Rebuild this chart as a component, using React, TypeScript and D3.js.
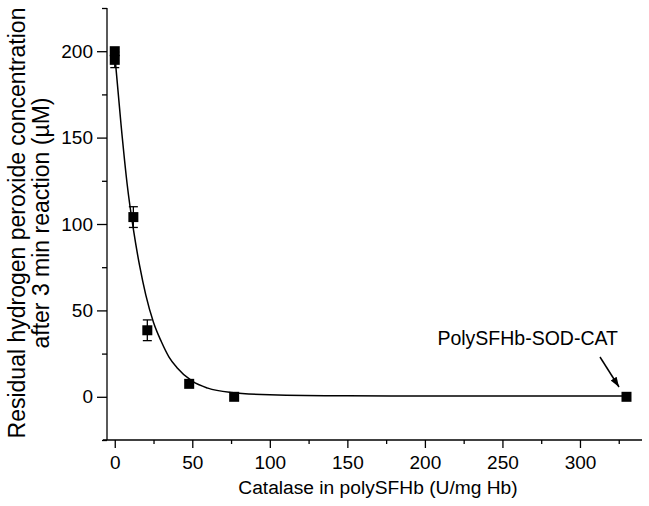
import React, { useEffect, useRef } from "react";
import * as d3 from "d3";

const catalase = [0, 0, 12, 21, 48, 77, 330];
const h2o2 = [200, 195, 104, 38.5, 7.5, 0, 0];
const errs = [0, 4.5, 6, 6, 0, 0, 0];

const curveX = [0, 4, 8, 12, 16, 20, 25, 30, 35, 40, 50, 60, 75, 100, 150, 200, 330];
const curveY = [198, 158, 123, 97, 76, 59, 43, 32, 23, 17, 9, 5, 2.5, 1.2, 0.6, 0.5, 0.5];

const xMajor = [0, 50, 100, 150, 200, 250, 300];
const xMinor = [25, 75, 125, 175, 225, 275, 325];
const yMajor = [0, 50, 100, 150, 200];
const yMinor = [-25, 25, 75, 125, 175, 225];

const xTitle = "Catalase in polySFHb (U/mg Hb)";
const yTitle1 = "Residual hydrogen peroxide concentration";
const yTitle2 = "after 3 min reaction (\u00b5M)";
const annotation = "PolySFHb-SOD-CAT";

const W = 649;
const H = 506;
const FONT = "'Liberation Sans', Arial, sans-serif";

export default function App() {
  const ref = useRef<SVGSVGElement | null>(null);

  useEffect(() => {
    const svg = d3.select(ref.current);
    svg.selectAll("*").remove();

    const x = d3.scaleLinear().domain([-5, 340]).range([107, 642]);
    const y = d3.scaleLinear().domain([-25, 225]).range([440, 8]);

    const defs = svg.append("defs");
    defs
      .append("marker")
      .attr("id", "arrow")
      .attr("viewBox", "0 0 10 10")
      .attr("refX", 10)
      .attr("refY", 5)
      .attr("markerWidth", 10)
      .attr("markerHeight", 10)
      .attr("markerUnits", "userSpaceOnUse")
      .attr("orient", "auto")
      .append("path")
      .attr("d", "M0,1.5 L10,5 L0,8.5 Z")
      .attr("fill", "#000");

    // X axis
    const xg = svg.append("g").attr("transform", `translate(0,${y(-25)})`);
    xg.append("g")
      .call(d3.axisBottom(x).tickValues(xMinor).tickSize(4).tickFormat(() => "").tickSizeOuter(0))
      .call((g) => g.select(".domain").remove());
    xg.append("g")
      .call(d3.axisBottom(x).tickValues(xMajor).tickSize(8).tickPadding(8).tickSizeOuter(0))
      .call((g) => g.select(".domain").remove());
    xg.append("line")
      .attr("x1", 103)
      .attr("x2", x(340))
      .attr("y1", 0)
      .attr("y2", 0)
      .attr("stroke", "#000")
      .attr("stroke-width", 1.3);

    // Y axis
    const yg = svg.append("g").attr("transform", `translate(${x(-5)},0)`);
    yg.append("g")
      .call(d3.axisLeft(y).tickValues(yMinor).tickSize(5).tickFormat(() => "").tickSizeOuter(0))
      .call((g) => g.select(".domain").remove());
    yg.append("g")
      .call(d3.axisLeft(y).tickValues(yMajor).tickSize(10).tickPadding(4).tickSizeOuter(0))
      .call((g) => g.select(".domain").remove());
    yg.append("line")
      .attr("x1", 0)
      .attr("x2", 0)
      .attr("y1", y(225))
      .attr("y2", y(-25))
      .attr("stroke", "#000")
      .attr("stroke-width", 1.3);

    svg.selectAll(".tick line").attr("stroke", "#000").attr("stroke-width", 1.3);
    svg
      .selectAll(".tick text")
      .attr("fill", "#000")
      .attr("font-size", 19)
      .attr("font-family", FONT);

    // Titles
    svg
      .append("text")
      .attr("x", 378)
      .attr("y", 494)
      .attr("text-anchor", "middle")
      .attr("font-size", 19.2)
      .attr("font-family", FONT)
      .text(xTitle);
    const yt = svg.append("g").attr("transform", `translate(0,223) rotate(-90)`);
    yt.append("text")
      .attr("x", 0)
      .attr("y", 24.5)
      .attr("text-anchor", "middle")
      .attr("font-size", 23)
      .attr("font-family", FONT)
      .text(yTitle1);
    yt.append("text")
      .attr("x", 0)
      .attr("y", 49)
      .attr("text-anchor", "middle")
      .attr("font-size", 23)
      .attr("font-family", FONT)
      .text(yTitle2);

    // Fitted curve
    const line = d3
      .line<number>()
      .x((_, i) => x(curveX[i]))
      .y((d) => y(d))
      .curve(d3.curveMonotoneX);
    svg
      .append("path")
      .attr("d", line(curveY))
      .attr("fill", "none")
      .attr("stroke", "#000")
      .attr("stroke-width", 1.5);

    // Error bars
    const idx = d3.range(catalase.length).filter((i) => errs[i] > 0);
    const eb = svg.append("g").attr("stroke", "#000").attr("stroke-width", 1.3);
    idx.forEach((i) => {
      const cx = x(catalase[i]);
      const y1 = y(h2o2[i] + errs[i]);
      const y2 = y(h2o2[i] - errs[i]);
      eb.append("line").attr("x1", cx).attr("x2", cx).attr("y1", y1).attr("y2", y2);
      eb.append("line").attr("x1", cx - 4.5).attr("x2", cx + 4.5).attr("y1", y1).attr("y2", y1);
      eb.append("line").attr("x1", cx - 4.5).attr("x2", cx + 4.5).attr("y1", y2).attr("y2", y2);
    });

    // Markers
    const s = 10;
    svg
      .append("g")
      .selectAll("rect")
      .data(d3.range(catalase.length))
      .join("rect")
      .attr("x", (i) => x(catalase[i]) - s / 2)
      .attr("y", (i) => y(h2o2[i]) - s / 2)
      .attr("width", s)
      .attr("height", s)
      .attr("fill", "#000");

    // Annotation
    svg
      .append("text")
      .attr("x", 618)
      .attr("y", 345)
      .attr("text-anchor", "end")
      .attr("font-size", 19.5)
      .attr("font-family", FONT)
      .text(annotation);
    svg
      .append("line")
      .attr("x1", 600)
      .attr("y1", 357)
      .attr("x2", 619)
      .attr("y2", 387)
      .attr("stroke", "#000")
      .attr("stroke-width", 1.5)
      .attr("marker-end", "url(#arrow)");
  }, []);

  return (
    <svg
      ref={ref}
      width={W}
      height={H}
      style={{ position: "absolute", left: 0, top: 0, background: "#fff" }}
    />
  );
}
